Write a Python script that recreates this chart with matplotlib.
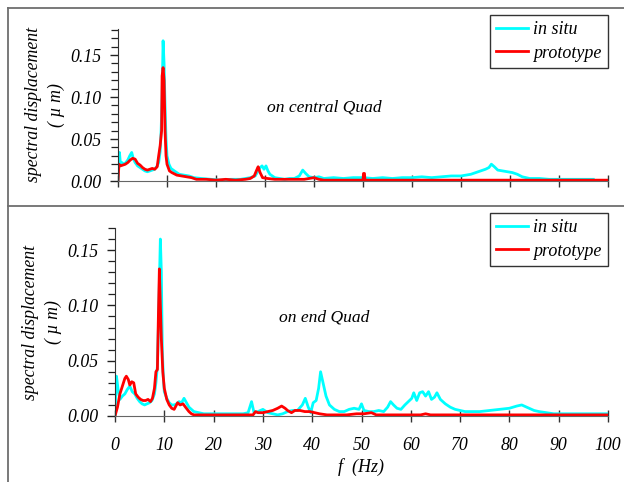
import matplotlib
matplotlib.use("Agg")
import matplotlib.pyplot as plt
from matplotlib.lines import Line2D
from matplotlib.ticker import MultipleLocator, FormatStrFormatter

plt.rcParams['font.family'] = ['Liberation Serif', 'DejaVu Serif']
plt.rcParams['font.style'] = 'italic'

# ---- data ----
# top panel: on central Quad
central_situ_f = [0, 0.3, 0.5, 0.8, 1.2, 1.6, 2.0, 2.4, 2.8, 3.1,
                  3.5, 4.0, 4.5, 5.0, 5.5, 6.0, 6.5, 7.0, 7.5, 8.0,
                  8.3, 8.6, 8.8, 9.0, 9.2, 9.4, 9.6, 9.8, 10.0, 10.4,
                  10.8, 11.5, 12.5, 13.5, 14.5, 15.5, 17, 19, 21, 23,
                  25, 26, 27, 28, 28.6, 29.0, 29.4, 29.8, 30.2, 30.6,
                  31.0, 31.5, 32, 33, 34, 35, 36, 37, 37.7, 38.3,
                  39, 40, 41, 42, 44, 46, 48, 50, 52, 54,
                  56, 58, 60, 62, 64, 66, 68, 70, 71, 72,
                  73, 74, 75, 75.7, 76.2, 76.8, 77.5, 78.5, 79.5, 80.5,
                  81.5, 82.5, 84, 86, 88, 90, 92, 94, 96, 97]
central_situ_v = [0.0, 0.034, 0.02, 0.022, 0.02, 0.022, 0.025, 0.03, 0.034, 0.027,
                  0.022, 0.018, 0.016, 0.014, 0.012, 0.011, 0.012, 0.013, 0.014, 0.018,
                  0.022, 0.035, 0.06, 0.1, 0.167, 0.14, 0.09, 0.05, 0.03, 0.02,
                  0.015, 0.012, 0.008, 0.007, 0.006, 0.004, 0.003, 0.002, 0.001, 0.002,
                  0.002, 0.003, 0.004, 0.006, 0.012, 0.016, 0.018, 0.014, 0.018, 0.012,
                  0.008, 0.006, 0.004, 0.003, 0.002, 0.003, 0.003, 0.006, 0.013, 0.009,
                  0.005, 0.004, 0.005, 0.003, 0.004, 0.003, 0.004, 0.004, 0.003, 0.004,
                  0.003, 0.004, 0.004, 0.005, 0.004, 0.005, 0.006, 0.006, 0.007, 0.008,
                  0.01, 0.012, 0.014, 0.016, 0.02, 0.017, 0.013, 0.012, 0.011, 0.01,
                  0.008, 0.005, 0.003, 0.003, 0.002, 0.002, 0.002, 0.002, 0.002, 0.002]

central_proto_f = [0, 0.2, 0.5, 1.0, 1.5, 2.0, 2.5, 3.0, 3.5, 4.0,
                   4.5, 5.0, 5.5, 6.0, 6.5, 7.0, 7.5, 8.0, 8.3, 8.6,
                   8.9, 9.0, 9.2, 9.4, 9.6, 9.8, 10.0, 10.5, 11, 12,
                   13, 14, 15, 16, 18, 20, 22, 24, 26, 27,
                   27.8, 28.3, 28.6, 29.0, 29.5, 30.5, 32, 34, 36, 38,
                   39, 40, 41, 42, 45, 50, 50.1, 50.3, 50.4, 55,
                   60, 70, 80, 90, 100]
central_proto_v = [0.0, 0.02, 0.018, 0.019, 0.02, 0.022, 0.025, 0.027, 0.026, 0.021,
                   0.019, 0.016, 0.014, 0.013, 0.014, 0.015, 0.014, 0.017, 0.03, 0.042,
                   0.06, 0.125, 0.135, 0.12, 0.06, 0.03, 0.02, 0.012, 0.01, 0.007,
                   0.006, 0.005, 0.004, 0.002, 0.002, 0.001, 0.002, 0.001, 0.002, 0.003,
                   0.006, 0.013, 0.017, 0.01, 0.004, 0.003, 0.002, 0.002, 0.002, 0.002,
                   0.003, 0.004, 0.002, 0.001, 0.001, 0.001, 0.009, 0.009, 0.001, 0.001,
                   0.001, 0.001, 0.001, 0.001, 0.001]

# bottom panel: on end Quad
end_situ_f = [0, 0.3, 0.6, 1.0, 1.5, 2.0, 2.5, 3.0, 3.5, 4.0,
              4.5, 5.0, 5.5, 6.0, 6.5, 7.0, 7.5, 8.0, 8.3, 8.6,
              8.8, 9.0, 9.2, 9.4, 9.6, 9.8, 10.0, 10.5, 11.0, 11.5,
              12.0, 12.5, 13.0, 13.5, 14.0, 14.5, 15.0, 16.0, 17.0, 18.0,
              20, 22, 24, 26, 27, 27.7, 28.2, 29, 30, 31,
              32, 33, 34, 35, 36, 37, 38, 38.6, 39.2, 39.7,
              40.2, 40.8, 41.3, 41.7, 42.2, 42.8, 43.5, 44.5, 45.5, 46.5,
              47.5, 48.5, 49.5, 50.0, 50.5, 51.5, 52.5, 53.5, 54.5, 55.3,
              55.9, 56.5, 57.2, 58, 58.8, 59.5, 60.2, 60.6, 61.2, 61.8,
              62.4, 63.0, 63.6, 64.2, 64.8, 65.3, 66.0, 67, 68, 69,
              70, 71, 72, 74, 76, 78, 80, 81.5, 82.5, 83.5,
              85, 86, 87.5, 89, 92, 96, 100]
end_situ_v = [0.0, 0.036, 0.025, 0.015, 0.018, 0.02, 0.024, 0.027, 0.022, 0.02,
              0.016, 0.013, 0.011, 0.01, 0.011, 0.012, 0.014, 0.02, 0.03, 0.045,
              0.08, 0.12, 0.16, 0.13, 0.06, 0.035, 0.022, 0.016, 0.012, 0.01,
              0.01, 0.011, 0.013, 0.012, 0.016, 0.012, 0.008, 0.004, 0.003, 0.002,
              0.002, 0.002, 0.002, 0.002, 0.003, 0.013, 0.003, 0.004, 0.006, 0.003,
              0.002, 0.001, 0.002, 0.004, 0.005, 0.005, 0.01, 0.016, 0.008, 0.003,
              0.012, 0.014, 0.025, 0.04, 0.03, 0.018, 0.01, 0.006, 0.004, 0.004,
              0.006, 0.007, 0.006, 0.011, 0.005, 0.004, 0.004, 0.005, 0.004, 0.008,
              0.013, 0.01, 0.007, 0.006, 0.01, 0.013, 0.016, 0.021, 0.014, 0.021,
              0.022, 0.018, 0.022, 0.015, 0.017, 0.021, 0.015, 0.011, 0.008, 0.006,
              0.005, 0.004, 0.004, 0.004, 0.005, 0.006, 0.007, 0.009, 0.01, 0.008,
              0.005, 0.004, 0.003, 0.002, 0.002, 0.002, 0.002]

end_proto_f = [0, 0.5, 1.0, 1.5, 2.0, 2.3, 2.7, 3.0, 3.4, 3.8,
               4.2, 4.7, 5.2, 5.7, 6.2, 6.7, 7.2, 7.6, 8.0, 8.3,
               8.6, 8.8, 9.0, 9.2, 9.4, 9.7, 10.0, 10.5, 11.0, 11.5,
               12.0, 12.7, 13.2, 13.8, 14.3, 15.0, 15.5, 16, 18, 20,
               22, 24, 26, 28, 28.5, 29, 30, 31, 32, 33,
               33.8, 34.5, 35, 35.8, 36.5, 37.5, 38.5, 39.5, 40.5, 41.5,
               43, 45, 47, 49, 50.5, 52, 53, 55, 62, 63,
               64, 70, 80, 90, 100]
end_proto_v = [0.0, 0.008, 0.02, 0.027, 0.034, 0.036, 0.033, 0.028, 0.031, 0.03,
               0.02, 0.017, 0.015, 0.014, 0.014, 0.015, 0.013, 0.016, 0.025, 0.04,
               0.042, 0.09, 0.133, 0.1, 0.07, 0.04, 0.025, 0.015, 0.01, 0.007,
               0.006, 0.012, 0.01, 0.011, 0.008, 0.004, 0.002, 0.001, 0.001, 0.001,
               0.001, 0.001, 0.001, 0.001, 0.004, 0.003, 0.003, 0.004, 0.005, 0.007,
               0.009, 0.007, 0.005, 0.003, 0.005, 0.005, 0.004, 0.004, 0.003, 0.002,
               0.001, 0.001, 0.001, 0.002, 0.002, 0.003, 0.001, 0.001, 0.001, 0.002,
               0.001, 0.001, 0.001, 0.001, 0.001]

series_labels = ["in situ", "prototype"]
panel_titles = ["on central Quad", "on end Quad"]
y_tops = [0.181, 0.170]

CYAN = "#00ffff"
RED = "#ff0000"

fig = plt.figure(figsize=(6.24, 4.82), dpi=100)
W, H = 624, 482

# outer frame lines of the original figure
frame_col = "#6e6e6e"
fig.add_artist(Line2D([8 / W, 1], [1 - 8 / H, 1 - 8 / H], color=frame_col, lw=1.3))
fig.add_artist(Line2D([8 / W, 8 / W], [0, 1 - 8 / H], color=frame_col, lw=1.3))
fig.add_artist(Line2D([8 / W, 1], [1 - 206 / H, 1 - 206 / H], color=frame_col, lw=1.3))

ax1 = fig.add_axes([118 / W, 1 - 181 / H, 490 / W, 152 / H])
ax2 = fig.add_axes([115 / W, 1 - 416 / H, 493 / W, 188 / H])

panels = [
    (ax1, central_situ_f, central_situ_v, central_proto_f, central_proto_v, 1.092),
    (ax2, end_situ_f, end_situ_v, end_proto_f, end_proto_v, 1.08),
]

for i, (ax, fs, vs, fp, vp, leg_top) in enumerate(panels):
    ax.plot(fs, vs, color=CYAN, lw=2.0, label=series_labels[0])
    ax.plot(fp, vp, color=RED, lw=2.0, label=series_labels[1])
    ax.set_xlim(0, 100)
    ax.set_ylim(0, y_tops[i])
    for s in ["top", "right"]:
        ax.spines[s].set_visible(False)
    ax.spines["left"].set_color("#333333")
    ax.spines["bottom"].set_color("#666666")
    ax.xaxis.set_major_locator(MultipleLocator(10))
    ax.yaxis.set_major_locator(MultipleLocator(0.05))
    ax.yaxis.set_minor_locator(MultipleLocator(0.01))
    ax.yaxis.set_major_formatter(FormatStrFormatter("%.2f"))
    ax.tick_params(axis="y", which="major", direction="out", length=6, width=1,
                   labelsize=12.8, color="#222222", pad=6)
    ax.tick_params(axis="y", which="minor", direction="out", length=5, width=0.9,
                   color="#222222")
    ax.tick_params(axis="x", which="major", direction="inout", length=8, width=1,
                   labelsize=12.8, color="#333333", pad=11)
    ax.set_ylabel("spectral displacement\n( µ m)", fontsize=12.8, linespacing=1.4,
                  labelpad=4)
    leg = ax.legend(loc="upper right", bbox_to_anchor=(1.0, leg_top), fontsize=13,
                    frameon=True, fancybox=False, handlelength=1.75,
                    borderpad=0.35, labelspacing=0.35, handletextpad=0.3,
                    borderaxespad=0)
    leg.get_frame().set_edgecolor("black")
    leg.get_frame().set_linewidth(1.0)

ax1.tick_params(axis="x", labelbottom=False)
fig.text(324 / W, 1 - 107 / H, panel_titles[0], fontsize=12.6, ha="center", va="center")
fig.text(324 / W, 1 - 317 / H, panel_titles[1], fontsize=12.6, ha="center", va="center")
ax2.set_xlabel("f  (Hz)", fontsize=13, labelpad=3)

fig.savefig("out.png", dpi=100)
